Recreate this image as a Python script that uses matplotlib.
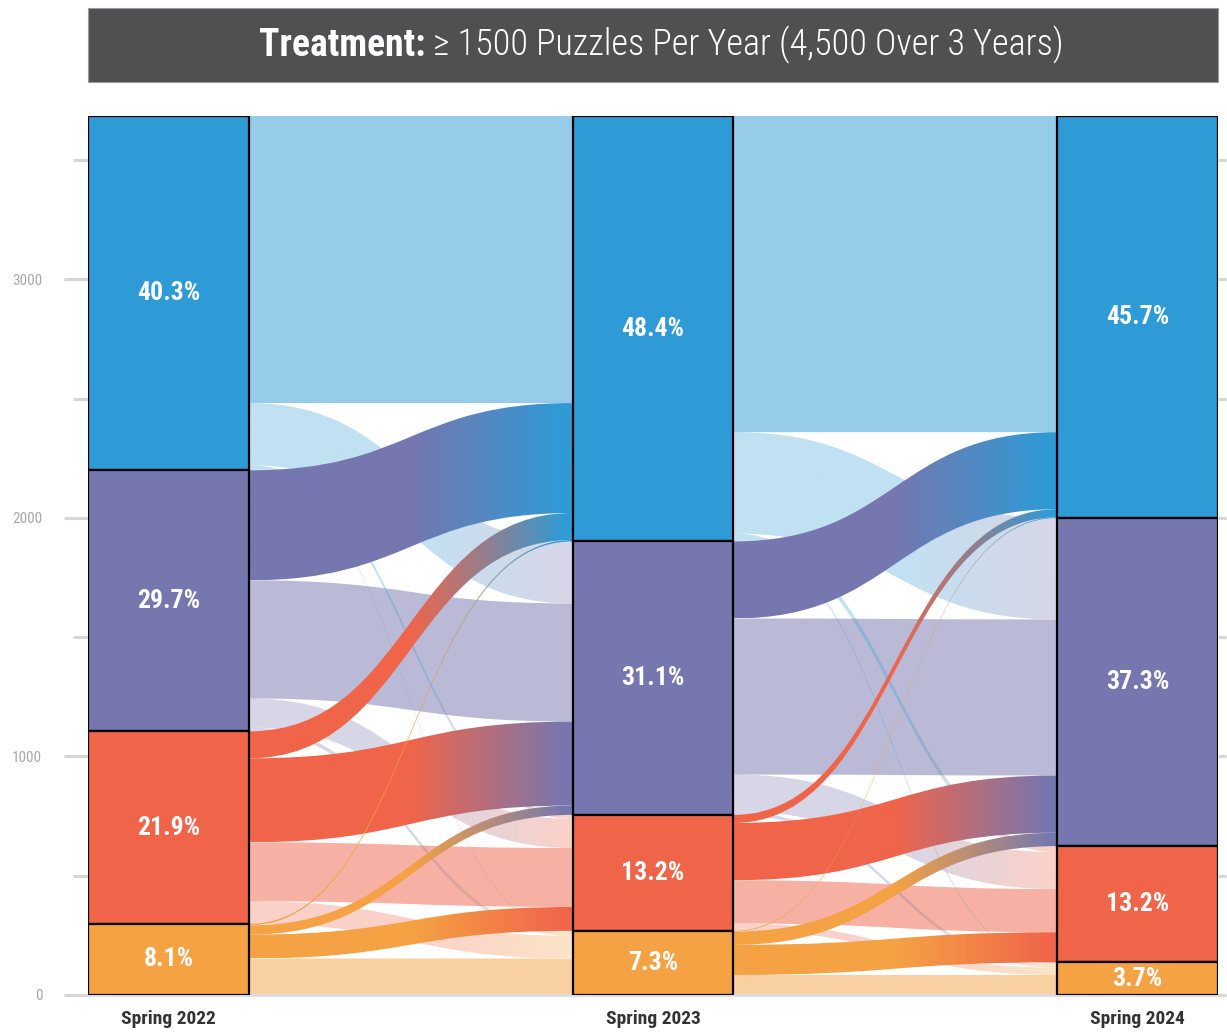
import numpy as np
import matplotlib.pyplot as plt
from matplotlib.path import Path
from matplotlib.patches import PathPatch, Rectangle
from matplotlib.colors import to_rgb
from matplotlib import font_manager

# ---- data -------------------------------------------------------------
years = ["Spring 2022", "Spring 2023", "Spring 2024"]
levels = ["top", "upper", "lower", "bottom"]          # drawn top to bottom
level_colors = ["#2E9BD6", "#7677AF", "#F0654A", "#F5A244"]

# flows[s][t]: students going from level s (one spring) to level t (next spring)
flows_22_23 = [
    [1203, 260, 17, 5],
    [461, 495, 122, 16],
    [113, 352, 247, 95],
    [6, 39, 100, 153],
]
flows_23_24 = [
    [1325, 425, 25, 8],
    [323, 654, 155, 14],
    [34, 240, 181, 31],
    [3, 56, 126, 84],
]

title_bold = "Treatment:"
title_rest = "\u2265 1500 Puzzles Per Year (4,500 Over 3 Years)"

# ---- fonts ------------------------------------------------------------
available = {f.name for f in font_manager.fontManager.ttflist}
narrow = "DejaVu Sans"
for name in ["Roboto Condensed", "Liberation Sans Narrow", "Open Sans Condensed", "Roboto"]:
    if name in available:
        narrow = name
        break
plt.rcParams["font.family"] = [narrow, "DejaVu Sans"]

# ---- derived node sizes -----------------------------------------------
transitions = [np.array(flows_22_23), np.array(flows_23_24)]
nodes = [transitions[0].sum(axis=1), transitions[0].sum(axis=0), transitions[1].sum(axis=0)]
total = nodes[0].sum()

col_x = [0.0, 1.0, 2.0]
bar_w = 0.332


def node_tops(sizes):
    return total - np.concatenate([[0], np.cumsum(sizes)[:-1]])


def band_path(x0, x1, a_top, a_bot, b_top, b_bot):
    xm = (x0 + x1) / 2
    verts = [(x0, a_top), (xm, a_top), (xm, b_top), (x1, b_top),
             (x1, b_bot), (xm, b_bot), (xm, a_bot), (x0, a_bot), (x0, a_top)]
    codes = [Path.MOVETO, Path.CURVE4, Path.CURVE4, Path.CURVE4,
             Path.LINETO, Path.CURVE4, Path.CURVE4, Path.CURVE4, Path.CLOSEPOLY]
    return Path(verts, codes)


def ramp(c0, c1, alpha, n=256):
    t = np.linspace(0, 1, n)
    k = np.clip((t - 0.5) / 0.48, 0, 1)
    rgb = (1 - k)[:, None] * np.array(to_rgb(c0)) + k[:, None] * np.array(to_rgb(c1))
    rgba = np.concatenate([rgb, np.full((n, 1), alpha)], axis=1)
    return rgba[None, :, :]


fig = plt.figure(figsize=(12.27, 10.34), dpi=100)
ax = fig.add_axes([88 / 1227, 39 / 1034, 1130 / 1227, 879 / 1034])

# ---- flows --------------------------------------------------------------
for i, f in enumerate(transitions):
    src_tops = node_tops(nodes[i])
    tgt_tops = node_tops(nodes[i + 1])
    x0 = col_x[i] + bar_w
    x1 = col_x[i + 1]
    for s in range(4):
        for t in range(4):
            v = f[s, t]
            if v <= 0:
                continue
            a_top = src_tops[s] - f[s, :t].sum()
            b_top = tgt_tops[t] - f[:s, t].sum()
            path = band_path(x0, x1, a_top, a_top - v, b_top, b_top - v)
            if s == t:
                ax.add_patch(PathPatch(path, facecolor=level_colors[s], alpha=0.5,
                                       edgecolor="none", zorder=1))
                continue
            improving = s > t
            alpha = 1.0 if improving else 0.3
            z = 3 if improving else 2
            clip = PathPatch(path, facecolor="none", edgecolor="none", zorder=z)
            ax.add_patch(clip)
            lo = min(a_top, b_top) - v
            hi = max(a_top, b_top)
            im = ax.imshow(ramp(level_colors[s], level_colors[t], alpha),
                           extent=[x0, x1, lo, hi], aspect="auto",
                           interpolation="bilinear", zorder=z)
            im.set_clip_path(clip)

# ---- nodes ------------------------------------------------------------
for i, sizes in enumerate(nodes):
    tops = node_tops(sizes)
    ax.bar(col_x[i], sizes, bottom=tops - sizes, width=bar_w, align="edge",
           color=level_colors, edgecolor="black", linewidth=1.6, zorder=5)
    for k in range(4):
        ax.text(col_x[i] + bar_w / 2, tops[k] - sizes[k] / 2,
                f"{100 * sizes[k] / total:.1f}%", ha="center", va="center",
                color="white", fontsize=18.5, fontweight="bold", zorder=6)

# ---- axes styling -------------------------------------------------------
ax.set_xlim(0, col_x[-1] + bar_w)
ax.set_ylim(0, total)
ax.set_xticks([c + bar_w / 2 for c in col_x], years)
ax.tick_params(axis="x", length=0, pad=11, labelsize=14, labelcolor="#333333")
for lab in ax.get_xticklabels():
    lab.set_fontweight("bold")
ax.set_yticks([0, 1000, 2000, 3000])
ax.set_yticks(np.arange(500, total, 1000), minor=True)
ax.tick_params(axis="y", which="major", length=17, width=2.2, color="#D6D6D6",
               pad=16, labelsize=11, labelcolor="#A8A8A8")
ax.tick_params(axis="y", which="minor", length=11, width=2.2, color="#D6D6D6")
for side in ["top", "left", "right"]:
    ax.spines[side].set_visible(False)
ax.spines["bottom"].set_color("#DDDDDD")
ax.spines["bottom"].set_linewidth(2)

ax2 = ax.twinx()
ax2.set_ylim(0, total)
ax2.set_yticks(np.arange(0, total, 500))
ax2.tick_params(axis="y", length=6, width=2.2, color="#D6D6D6", labelright=False)
for side in ax2.spines:
    ax2.spines[side].set_visible(False)

# ---- title banner -------------------------------------------------------
fig.add_artist(Rectangle((88 / 1227, 1 - 82 / 1034), 1130 / 1227, 74 / 1034,
                         transform=fig.transFigure, facecolor="#505053",
                         edgecolor="#9A9A9A", linewidth=0.8))
yc = 1 - 45 / 1034
t1 = fig.text(0, yc, title_bold, color="white", fontsize=27, fontweight="bold",
              va="center", ha="left")
t2 = fig.text(0, yc, title_rest, color="white", fontsize=26, fontweight="light",
              va="center", ha="left")
fig.canvas.draw()
r = fig.canvas.get_renderer()
w1 = t1.get_window_extent(r).width
w2 = t2.get_window_extent(r).width
gap = 8
start = 661 - (w1 + gap + w2) / 2
t1.set_x(start / 1227)
t2.set_x((start + w1 + gap) / 1227)

fig.savefig("out.png", dpi=100)
